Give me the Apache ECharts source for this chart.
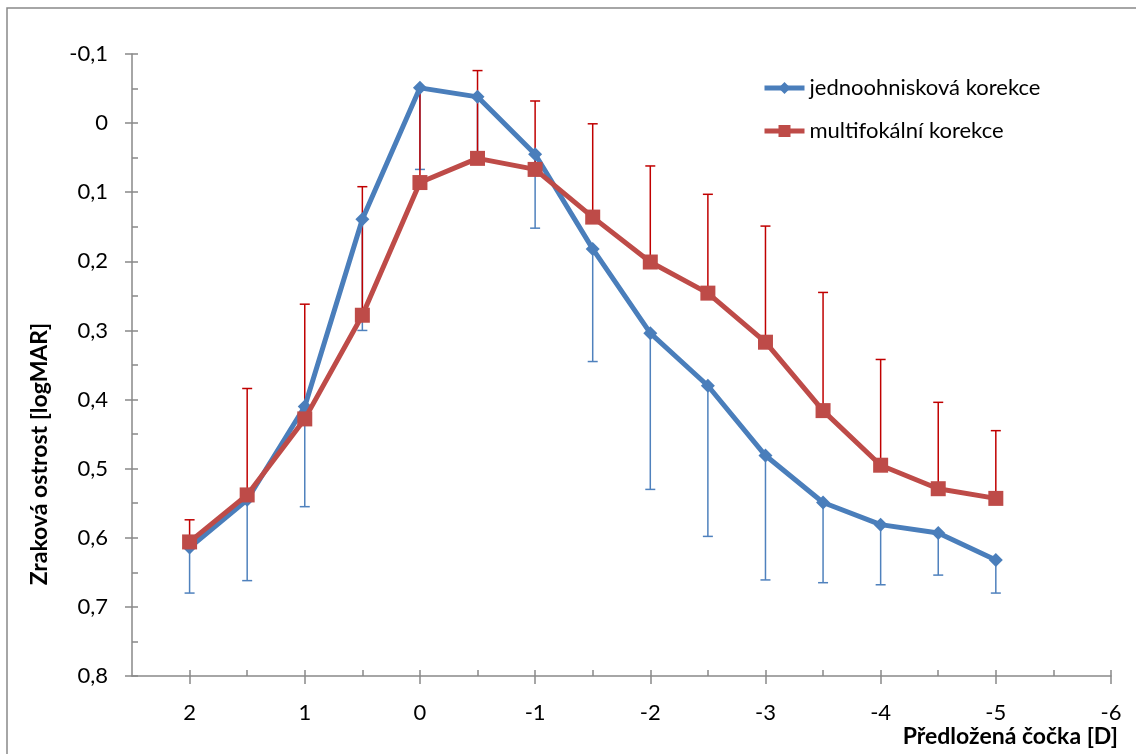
<!DOCTYPE html>
<html>
<head>
<meta charset="utf-8">
<script src="https://cdn.jsdelivr.net/npm/echarts@6/dist/echarts.min.js"></script>
<style>
  html, body { margin: 0; padding: 0; background: #fff; }
  #main { width: 1136px; height: 754px; }
</style>
</head>
<body>
<div id="main"></div>
<script>
// předložená čočka [D] (osa x)
var lens = [2, 1.5, 1, 0.5, 0, -0.5, -1, -1.5, -2, -2.5, -3, -3.5, -4, -4.5, -5];
// jednoohnisková korekce - průměr a konec chybové úsečky (dolů)
var jedno = [0.614, 0.545, 0.41, 0.139, -0.051, -0.038, 0.045, 0.182, 0.304, 0.38, 0.481, 0.549, 0.581, 0.593, 0.632];
var jednoErr = [0.68, 0.662, 0.555, 0.3, 0.067, 0.045, 0.152, 0.345, 0.53, 0.598, 0.661, 0.665, 0.668, 0.654, 0.68];
// multifokální korekce - průměr a konec chybové úsečky (nahoru)
var multi = [0.606, 0.538, 0.428, 0.278, 0.086, 0.051, 0.067, 0.136, 0.201, 0.246, 0.317, 0.416, 0.495, 0.529, 0.543];
var multiErr = [0.574, 0.384, 0.262, 0.092, -0.05, -0.076, -0.032, 0.001, 0.062, 0.103, 0.149, 0.245, 0.342, 0.404, 0.445];
// popisky a značky os
var xTicks = [2, 1, 0, -1, -2, -3, -4, -5, -6];
var xMinorTicks = [2, 1.5, 1, 0.5, 0, -0.5, -1, -1.5, -2, -2.5, -3, -3.5, -4, -4.5, -5, -5.5, -6];
var yMinorTicks = [-0.1, -0.05, 0, 0.05, 0.1, 0.15, 0.2, 0.25, 0.3, 0.35, 0.4, 0.45, 0.5, 0.55, 0.6, 0.65, 0.7, 0.75, 0.8];

var seriesNames = ['jednoohnisková korekce', 'multifokální korekce'];
var font = 'Lato, "Open Sans", sans-serif';
var axisGray = '#898989';

var chart = echarts.init(document.getElementById('main'));

function pairs(ys) {
    var out = [];
    for (var i = 0; i < lens.length; i++) out.push([lens[i], ys[i]]);
    return out;
}
function errPairs(ys, ends) {
    var out = [];
    for (var i = 0; i < lens.length; i++) out.push([lens[i], ys[i], ends[i]]);
    return out;
}

// chybová úsečka s koncovkou jen na vzdáleném konci
function errorBar(color, width) {
    return function (params, api) {
        var x = api.value(0);
        var a = api.coord([x, api.value(1)]);
        var b = api.coord([x, api.value(2)]);
        var w = 5;
        return {
            type: 'group',
            children: [
                { type: 'line', shape: { x1: a[0], y1: a[1], x2: b[0], y2: b[1] }, style: { stroke: color, lineWidth: width } },
                { type: 'line', shape: { x1: b[0] - w, y1: b[1], x2: b[0] + w, y2: b[1] }, style: { stroke: color, lineWidth: width } }
            ]
        };
    };
}

function yFmt(v) {
    var r = Math.round(v * 10) / 10;
    return String(r).replace('.', ',');
}

var gridBox = { left: 132, top: 54, right: 25, bottom: 78 };

var option = {
    animation: false,
    backgroundColor: '#ffffff',
    grid: [
        { left: gridBox.left, top: gridBox.top, right: gridBox.right, bottom: gridBox.bottom },
        { left: gridBox.left, top: gridBox.top, right: gridBox.right, bottom: gridBox.bottom }
    ],
    legend: {
        orient: 'vertical',
        left: 762,
        top: 77,
        padding: 0,
        itemWidth: 40,
        itemHeight: 15,
        itemGap: 21,
        data: seriesNames,
        lineStyle: { width: 5 },
        textStyle: { fontFamily: font, fontSize: 22, color: '#000' }
    },
    xAxis: [
        {
            type: 'value', gridIndex: 0, inverse: true, min: -6, max: 2.5, interval: 1,
            splitLine: { show: false },
            axisLine: { onZero: false, lineStyle: { color: axisGray, width: 1.5 } },
            axisTick: { customValues: xTicks, length: 8, lineStyle: { color: axisGray, width: 1.5 } },
            axisLabel: { customValues: xTicks, margin: 26, fontFamily: font, fontSize: 22, color: '#000' }
        },
        {
            type: 'value', gridIndex: 1, inverse: true, min: -6, max: 2.5, interval: 1,
            splitLine: { show: false },
            axisLine: { show: false, onZero: false },
            axisTick: { inside: true, customValues: xMinorTicks, length: 6, lineStyle: { color: axisGray, width: 1.5 } },
            axisLabel: { show: false }
        }
    ],
    yAxis: [
        {
            type: 'value', gridIndex: 0, inverse: true, min: -0.1, max: 0.8, interval: 0.1,
            splitLine: { show: false },
            axisLine: { onZero: false, lineStyle: { color: axisGray, width: 1.5 } },
            axisTick: { length: 7, lineStyle: { color: axisGray, width: 1.5 } },
            axisLabel: { margin: 24, fontFamily: font, fontSize: 22, color: '#000', formatter: yFmt }
        },
        {
            type: 'value', gridIndex: 1, inverse: true, min: -0.1, max: 0.8, interval: 0.1,
            splitLine: { show: false },
            axisLine: { show: false, onZero: false },
            axisTick: { inside: true, customValues: yMinorTicks, length: 6, lineStyle: { color: axisGray, width: 1.5 } },
            axisLabel: { show: false }
        }
    ],
    series: [
        {
            type: 'custom', xAxisIndex: 0, yAxisIndex: 0, z: 1,
            renderItem: errorBar('#4f81bd', 1.5),
            encode: { x: 0, y: [1, 2] },
            data: errPairs(jedno, jednoErr)
        },
        {
            type: 'custom', xAxisIndex: 0, yAxisIndex: 0, z: 1,
            renderItem: errorBar('#c00000', 1.5),
            encode: { x: 0, y: [1, 2] },
            data: errPairs(multi, multiErr)
        },
        {
            name: seriesNames[0],
            type: 'line', xAxisIndex: 0, yAxisIndex: 0, z: 3,
            symbol: 'diamond', symbolSize: 14, showAllSymbol: true,
            itemStyle: { color: '#4a7ebb' },
            lineStyle: { color: '#4a7ebb', width: 5 },
            data: pairs(jedno)
        },
        {
            name: seriesNames[1],
            type: 'line', xAxisIndex: 0, yAxisIndex: 0, z: 4,
            symbol: 'rect', symbolSize: 15, showAllSymbol: true,
            itemStyle: { color: '#be4b48' },
            lineStyle: { color: '#be4b48', width: 5 },
            data: pairs(multi)
        }
    ],
    graphic: [
        {
            type: 'rect', z: -10, silent: true,
            shape: { x: 7, y: 8, width: 1200, height: 800 },
            style: { fill: 'none', stroke: axisGray, lineWidth: 1.5 }
        },
        {
            type: 'text', x: 40, y: 454, rotation: Math.PI / 2,
            style: {
                text: 'Zraková ostrost [logMAR]', font: 'bold 23px ' + font,
                fill: '#000', align: 'center', verticalAlign: 'middle'
            }
        },
        {
            type: 'text', x: 1118, y: 737,
            style: {
                text: 'Předložená čočka [D]', font: 'bold 23px ' + font,
                fill: '#000', align: 'right', verticalAlign: 'middle'
            }
        }
    ]
};

chart.setOption(option);
</script>
</body>
</html>
